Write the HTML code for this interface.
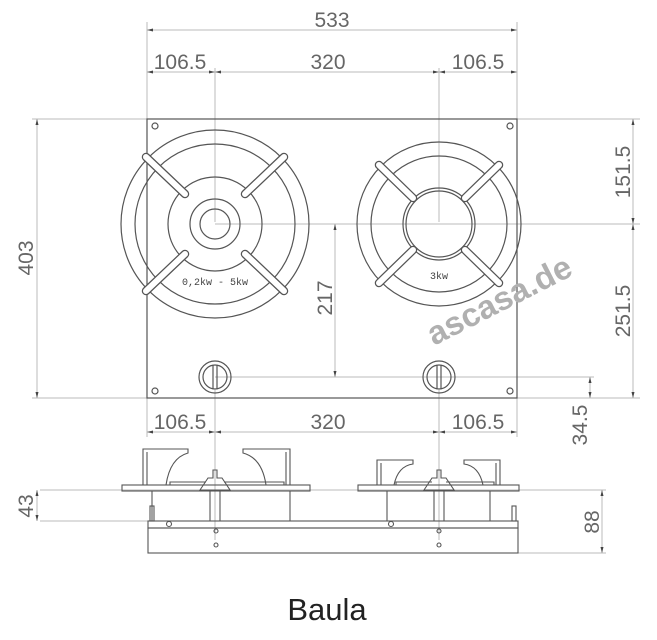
<!DOCTYPE html>
<html><head><meta charset="utf-8"><style>
html,body{margin:0;padding:0;background:#fff;width:657px;height:640px;overflow:hidden}
svg{display:block}
.d{font-family:"Liberation Sans",sans-serif;fill:#666;font-size:21px}
</style></head><body>
<svg width="657" height="640" viewBox="0 0 657 640" xmlns="http://www.w3.org/2000/svg">
<g fill="none" stroke="#bbb" stroke-width="1">
<line x1="147" y1="22" x2="147" y2="120"/><line x1="517" y1="22" x2="517" y2="120"/>
<line x1="215" y1="68" x2="215" y2="222"/><line x1="439" y1="68" x2="439" y2="222"/>
<line x1="147" y1="398" x2="147" y2="437"/><line x1="517" y1="398" x2="517" y2="437"/>
<line x1="215" y1="390" x2="215" y2="540"/><line x1="439" y1="390" x2="439" y2="540"/>
<line x1="32" y1="119" x2="640" y2="119"/><line x1="32" y1="398" x2="640" y2="398"/>
<line x1="215" y1="224" x2="640" y2="224"/>
<line x1="215" y1="377" x2="594" y2="377"/>
<line x1="40" y1="490" x2="606" y2="490"/><line x1="40" y1="521" x2="150" y2="521"/>
<line x1="518" y1="553" x2="606" y2="553"/>
<line x1="147" y1="30" x2="517" y2="30"/><line x1="147" y1="72" x2="517" y2="72"/>
<line x1="147" y1="432" x2="517" y2="432"/>
<line x1="37" y1="119" x2="37" y2="398"/><line x1="633" y1="119" x2="633" y2="398"/>
<line x1="335" y1="224" x2="335" y2="377"/><line x1="590" y1="377" x2="590" y2="398"/>
<line x1="37" y1="490" x2="37" y2="521"/><line x1="602" y1="490" x2="602" y2="553"/>
</g>
<g fill="#444">
<path d="M147 30l6-1.5v3zM517 30l-6-1.5v3zM147 72l6-1.5v3zM215 72l-6-1.5v3zM215 72l6-1.5v3zM439 72l-6-1.5v3zM439 72l6-1.5v3zM517 72l-6-1.5v3z"/>
<path d="M147 432l6-1.5v3zM215 432l-6-1.5v3zM215 432l6-1.5v3zM439 432l-6-1.5v3zM439 432l6-1.5v3zM517 432l-6-1.5v3z"/>
<path d="M37 119l-1.5 6h3zM37 398l-1.5-6h3zM633 119l-1.5 6h3zM633 224l-1.5-6h3zM633 224l-1.5 6h3zM633 398l-1.5-6h3zM335 224l-1.5 6h3zM335 377l-1.5-6h3zM590 377l-1.5 6h3zM590 398l-1.5-6h3zM37 490l-1.5 6h3zM37 521l-1.5-6h3zM602 490l-1.5 6h3zM602 553l-1.5-6h3z"/>
</g>
<text class="d" x="332" y="27" text-anchor="middle">533</text>
<text class="d" x="180" y="69" text-anchor="middle">106.5</text>
<text class="d" x="328" y="69" text-anchor="middle">320</text>
<text class="d" x="478" y="69" text-anchor="middle">106.5</text>
<text class="d" x="180" y="429" text-anchor="middle">106.5</text>
<text class="d" x="328" y="429" text-anchor="middle">320</text>
<text class="d" x="478" y="429" text-anchor="middle">106.5</text>
<text class="d" transform="translate(33,258) rotate(-90)" text-anchor="middle">403</text>
<text class="d" transform="translate(630,172) rotate(-90)" text-anchor="middle">151.5</text>
<text class="d" transform="translate(630,311) rotate(-90)" text-anchor="middle">251.5</text>
<text class="d" transform="translate(332,298) rotate(-90)" text-anchor="middle">217</text>
<text class="d" transform="translate(587,425) rotate(-90)" text-anchor="middle">34.5</text>
<text class="d" transform="translate(33,506) rotate(-90)" text-anchor="middle">43</text>
<text class="d" transform="translate(599,522) rotate(-90)" text-anchor="middle">88</text>

<g fill="none" stroke="#555" stroke-width="1.2">
<rect x="147" y="119" width="370" height="279"/>
<circle cx="155" cy="126" r="3"/><circle cx="510" cy="126" r="3"/>
<circle cx="155" cy="391" r="3"/><circle cx="510" cy="391" r="3"/>
<circle cx="215" cy="224" r="94"/><circle cx="215" cy="224" r="80"/>
<circle cx="215" cy="224" r="47"/><circle cx="215" cy="224" r="25"/><circle cx="215" cy="224" r="15"/>
<circle cx="439" cy="224" r="82"/><circle cx="439" cy="224" r="68"/>
<circle cx="439" cy="224" r="36"/><circle cx="439" cy="224" r="33"/>
<circle cx="215" cy="377" r="16"/><circle cx="215" cy="377" r="12"/>
<line x1="213" y1="365" x2="213" y2="389"/><line x1="217" y1="365" x2="217" y2="389"/>
<circle cx="439" cy="377" r="16"/><circle cx="439" cy="377" r="12"/>
<line x1="437" y1="365" x2="437" y2="389"/><line x1="441" y1="365" x2="441" y2="389"/>
</g>
<g stroke="#555" stroke-width="8.5" stroke-linecap="round">
<line x1="146" y1="157" x2="185" y2="194"/><line x1="284" y1="157" x2="245" y2="194"/>
<line x1="146" y1="291" x2="185" y2="254"/><line x1="284" y1="291" x2="245" y2="254"/>
<line x1="379" y1="165" x2="413" y2="198"/><line x1="499" y1="165" x2="465" y2="198"/>
<line x1="379" y1="283" x2="413" y2="250"/><line x1="499" y1="283" x2="465" y2="250"/>
</g>
<g stroke="#fff" stroke-width="6" stroke-linecap="round">
<line x1="146" y1="157" x2="185" y2="194"/><line x1="284" y1="157" x2="245" y2="194"/>
<line x1="146" y1="291" x2="185" y2="254"/><line x1="284" y1="291" x2="245" y2="254"/>
<line x1="379" y1="165" x2="413" y2="198"/><line x1="499" y1="165" x2="465" y2="198"/>
<line x1="379" y1="283" x2="413" y2="250"/><line x1="499" y1="283" x2="465" y2="250"/>
</g>
<text x="215" y="285" text-anchor="middle" font-family="Liberation Mono,monospace" font-size="10" fill="#444">0,2kw - 5kw</text>
<text x="439" y="279" text-anchor="middle" font-family="Liberation Mono,monospace" font-size="10" fill="#444">3kw</text>
<text transform="translate(434,346) rotate(-27)" font-family="Liberation Sans,sans-serif" font-weight="bold" font-size="33" fill="#b0b0b0">ascasa.de</text>

<g fill="none" stroke="#555" stroke-width="1.1">
<rect x="122" y="485" width="188" height="6"/><rect x="358" y="485" width="161" height="6"/>
<rect x="148" y="521" width="370" height="7"/><rect x="148" y="528" width="370" height="25"/>
<line x1="152" y1="491" x2="152" y2="521"/><line x1="290" y1="491" x2="290" y2="521"/>
<line x1="210" y1="491" x2="210" y2="521"/><line x1="220" y1="491" x2="220" y2="521"/>
<line x1="387" y1="491" x2="387" y2="521"/><line x1="490" y1="491" x2="490" y2="521"/>
<line x1="434" y1="491" x2="434" y2="521"/><line x1="444" y1="491" x2="444" y2="521"/>
<path d="M143 485V449H188V453Q170 458 166 485M147 485V452"/>
<path d="M290 485V449H243V453Q262 458 266 485M286 485V452"/>
<path d="M377 485V460H413V464Q398 466 394 485M381 485V463"/>
<path d="M500 485V460H464V464Q479 466 483 485M496 485V463"/>
<path d="M200 490l8-12h5v-8h4v8h5l8 12z"/>
<path d="M424 490l8-12h5v-8h4v8h5l8 12z"/>
<path d="M170 485v-3h36M224 482h60v3M396 485v-3h36M446 482h48v3"/>
<rect x="150" y="506" width="4" height="15"/><rect x="512" y="506" width="4" height="15"/>
<circle cx="216" cy="531" r="2"/><circle cx="216" cy="545" r="2"/>
<circle cx="439" cy="531" r="2"/><circle cx="439" cy="545" r="2"/>
<circle cx="169" cy="524" r="2.5"/><circle cx="391" cy="524" r="2.5"/>
</g>
<text x="327" y="620" text-anchor="middle" font-family="Liberation Sans,sans-serif" font-size="31" fill="#222">Baula</text>
</svg>
</body></html>
